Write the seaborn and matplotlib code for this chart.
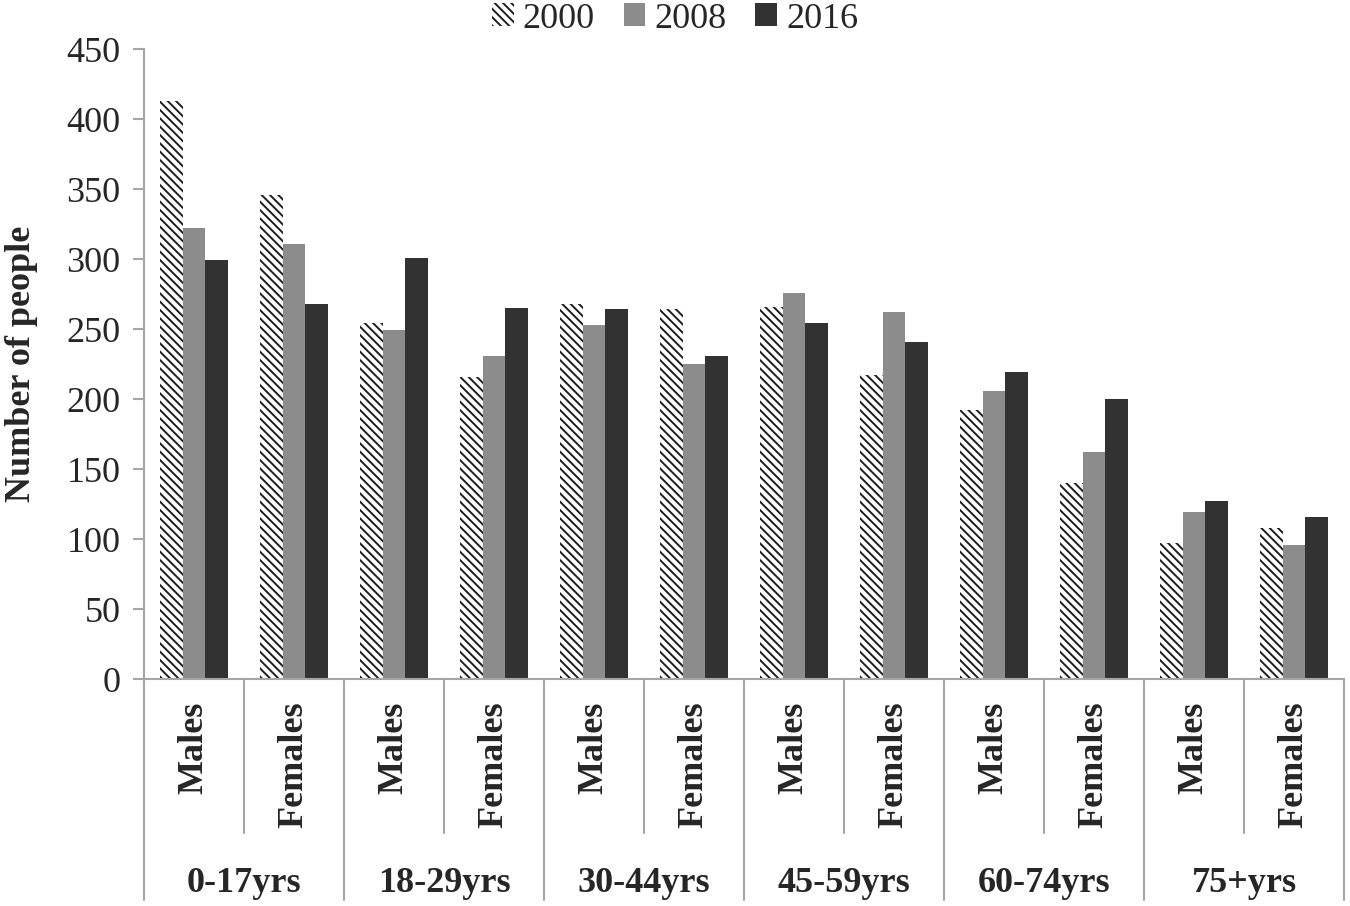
import matplotlib
matplotlib.use('Agg')
import matplotlib.pyplot as plt
from matplotlib.patches import Patch
import seaborn as sns
import pandas as pd

# Données
ages = ['0-17yrs', '18-29yrs', '30-44yrs', '45-59yrs', '60-74yrs', '75+yrs']
sexes = ['Males', 'Females']
years = ['2000', '2008', '2016']
v2000 = [413, 346, 254, 216, 268, 264, 266, 217, 192, 140, 97, 108]
v2008 = [322, 311, 249, 231, 253, 225, 276, 262, 206, 162, 119, 96]
v2016 = [299, 268, 301, 265, 264, 231, 254, 241, 219, 200, 127, 116]

colors = {'2000': 'white', '2008': '#8c8c8c', '2016': '#323232'}
axis_grey = '#a6a6a6'
hatch_col = '#1e1e1e'

sns.set_style('white')
plt.rcParams['font.family'] = ['Liberation Serif', 'DejaVu Serif']
plt.rcParams['hatch.linewidth'] = 1.4

cats = [f'{a} {s}' for a in ages for s in sexes]
rows = []
for year, vals in zip(years, [v2000, v2008, v2016]):
    for c, v in zip(cats, vals):
        rows.append({'cat': c, 'year': year, 'value': v})
df = pd.DataFrame(rows)

fig = plt.figure(figsize=(13.5, 9.06), dpi=100)
ax = fig.add_axes([144 / 1350, 1 - 679 / 906, 1200 / 1350, 630 / 906])

sns.barplot(data=df, x='cat', y='value', hue='year', order=cats, hue_order=years,
            palette=colors, width=0.68, gap=0, errorbar=None, legend=False,
            linewidth=0, ax=ax)

# hachures pour 2000
for bar in ax.containers[0]:
    bar.set_hatch('\\\\\\\\')
    bar.set_edgecolor(hatch_col)
    bar.set_linewidth(0)

ax.set_xlim(-0.5, len(cats) - 0.5)
ax.set_ylim(0, 450)
ax.set_yticks(range(0, 451, 50))
ax.tick_params(axis='y', labelsize=26, length=8, width=1.5, color=axis_grey,
               pad=9, direction='out', left=True)
ax.set_xticks([])
ax.set_xlabel('')
ax.set_ylabel('Number of people', fontsize=26, fontweight='bold')
ax.yaxis.set_label_coords(-0.088, 0.5)

for side in ['top', 'right']:
    ax.spines[side].set_visible(False)
for side in ['left', 'bottom']:
    ax.spines[side].set_color(axis_grey)
    ax.spines[side].set_linewidth(1.5)

# axe des x hiérarchique
trans = ax.get_xaxis_transform()
for k in range(len(ages) + 1):
    x = -0.5 + 2 * k
    ax.plot([x, x], [0, -0.351], transform=trans, color=axis_grey, lw=1.5, clip_on=False)
for k in range(len(ages)):
    x = 0.5 + 2 * k
    ax.plot([x, x], [0, -0.244], transform=trans, color=axis_grey, lw=1.5, clip_on=False)

for i, c in enumerate(cats):
    sex = c.split(' ')[1]
    ax.text(i, -0.036, sex, transform=trans, rotation=90, ha='center', va='top',
            fontsize=26, fontweight='bold')
for k, a in enumerate(ages):
    ax.text(2 * k + 0.5, -0.324, a, transform=trans, ha='center', va='center',
            fontsize=26, fontweight='bold')

handles = [Patch(facecolor=colors[y], edgecolor=hatch_col if y == '2000' else colors[y],
                 hatch='\\\\\\\\' if y == '2000' else None, linewidth=0, label=y)
           for y in years]
fig.legend(handles=handles, loc='center', bbox_to_anchor=(0.5, 1 - 19 / 906), ncol=3,
           frameon=False, fontsize=26, handlelength=0.6, handleheight=0.6,
           handletextpad=0.25, columnspacing=0.8, borderaxespad=0)

fig.savefig('out.png', dpi=100)
